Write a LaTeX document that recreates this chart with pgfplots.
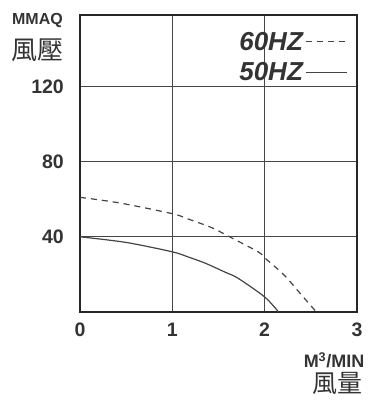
\documentclass[border=0pt]{standalone}
\usepackage{fontspec}
\setmainfont{Liberation Sans}
\newfontfamily\cjk{Noto Sans CJK TC}
\usepackage{pgfplots}
\pgfplotsset{compat=1.18}

\definecolor{ink}{HTML}{333333}
\definecolor{curve}{HTML}{444444}

\begin{document}
\begin{tikzpicture}
\begin{axis}[
  width=277pt, height=297pt, scale only axis,
  xmin=0, xmax=3, ymin=0, ymax=158,
  xtick={0,1,2,3}, ytick={40,80,120},
  major tick length=0pt,
  grid=major,
  major grid style={line width=1.3pt, color=black!72},
  axis line style={line width=2.4pt, color=black!85},
  /pgf/number format/assume math mode=true,
  tick label style={font=\bfseries\fontsize{19.5}{19.5}\selectfont, text=ink},
  xticklabel style={inner sep=0pt, yshift=-11pt},
  yticklabel style={inner sep=0pt, xshift=-16pt},
  clip=false,
  legend plot pos=right,
  legend cell align=right,
  legend image code/.code={\draw[#1] (0pt,0pt) -- (41pt,0pt);},
  legend style={at={(rel axis cs:0.965,0.95)}, anchor=north east,
    draw=none, fill=none, inner sep=0pt, row sep=7pt,
    font=\bfseries\itshape\fontsize{26}{26}\selectfont, text=ink,
    /tikz/every even column/.append style={column sep=3pt}},
]
% 60 Hz
\addplot[curve, line width=1.2pt, dash pattern=on 6pt off 5pt, smooth] coordinates {
  (0,61) (0.43,58) (1,52.3) (1.17,49.5) (1.43,44.8) (1.62,40)
  (1.93,32) (2.0,28.8) (2.21,19.7) (2.4,9) (2.56,0)
};
\addlegendentry{60HZ}
% 50 Hz
\addplot[curve, line width=1.2pt, smooth] coordinates {
  (0,40) (0.5,37) (1,32) (1.17,29.3) (1.355,26) (1.58,21)
  (1.71,18) (2.0,8) (2.15,0)
};
\addlegendentry{50HZ}

\node[text=ink, font=\bfseries\fontsize{16}{16}\selectfont]
  at (rel axis cs:0,1) [xshift=-42.5pt, yshift=-5pt] {MMAQ};
\node[text=ink, font=\cjk\fontsize{26}{26}\selectfont]
  at (rel axis cs:0,1) [xshift=-42pt, yshift=-35pt] {風壓};
\node[text=ink, font=\bfseries\fontsize{18}{18}\selectfont]
  at (rel axis cs:1,0) [xshift=-23pt, yshift=-48pt] {M\textsuperscript{3}/MIN};
\node[text=ink, font=\cjk\fontsize{25}{25}\selectfont]
  at (rel axis cs:1,0) [xshift=-20pt, yshift=-71.5pt] {風量};

\path (rel axis cs:0,0) ++(-80pt,-89pt);
\path (rel axis cs:1,1) ++(8pt,15pt);
\end{axis}
\end{tikzpicture}
\end{document}
